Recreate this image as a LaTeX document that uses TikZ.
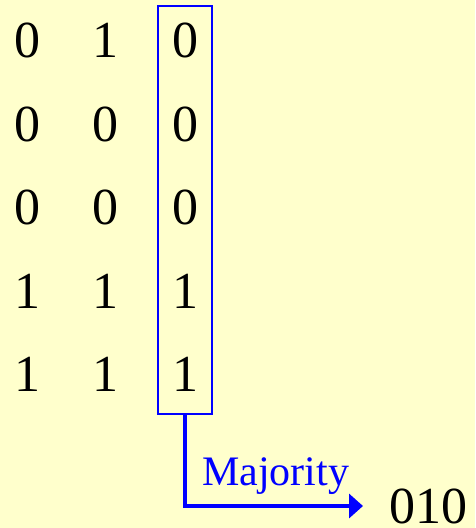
\documentclass[tikz,border=0pt]{standalone}
\usepackage{fontspec}
\setmainfont{Liberation Serif}
\usetikzlibrary{arrows.meta}
\definecolor{bgyellow}{HTML}{FFFFCC}
\definecolor{pureblue}{HTML}{0000FF}
\tikzset{
  digit/.style={anchor=base, inner sep=0pt, font=\fontsize{52}{60}\selectfont},
  majbox/.style={draw=pureblue, line width=2pt, minimum width=54pt, minimum height=408pt, inner sep=0pt},
  majarrow/.style={draw=pureblue, line width=4pt, -{Triangle[length=14pt,width=24pt]}},
  majlabel/.style={anchor=base west, inner sep=0pt, text=pureblue, font=\fontsize{42}{48}\selectfont},
}
\begin{document}
\begin{tikzpicture}[x=1pt,y=-1pt]
\fill[bgyellow] (0,0) rectangle (475,528);
\useasboundingbox (0,0) rectangle (475,528);
% rows
\node[digit] (a1) at (27,57) {0};
\node[digit] (b1) at (105,57) {1};
\node[digit] (c1) at (185,57) {0};
\node[digit] (a2) at (27,141) {0};
\node[digit] (b2) at (105,141) {0};
\node[digit] (c2) at (185,141) {0};
\node[digit] (a3) at (27,224) {0};
\node[digit] (b3) at (105,224) {0};
\node[digit] (c3) at (185,224) {0};
\node[digit] (a4) at (27,308) {1};
\node[digit] (b4) at (105,308) {1};
\node[digit] (c4) at (185,308) {1};
\node[digit] (a5) at (27,391) {1};
\node[digit] (b5) at (105,391) {1};
\node[digit] (c5) at (185,391) {1};
% box around third column
\node[majbox] (box) at (185,210) {};
% result
\node[digit, anchor=base west, text depth=1pt] (out) at (389,523) {010};
\coordinate (tip) at (363,506);
\draw[majarrow] (box.south) |- (tip);
\node[majlabel] (maj) at (202,485) {Majority};
\end{tikzpicture}
\end{document}
